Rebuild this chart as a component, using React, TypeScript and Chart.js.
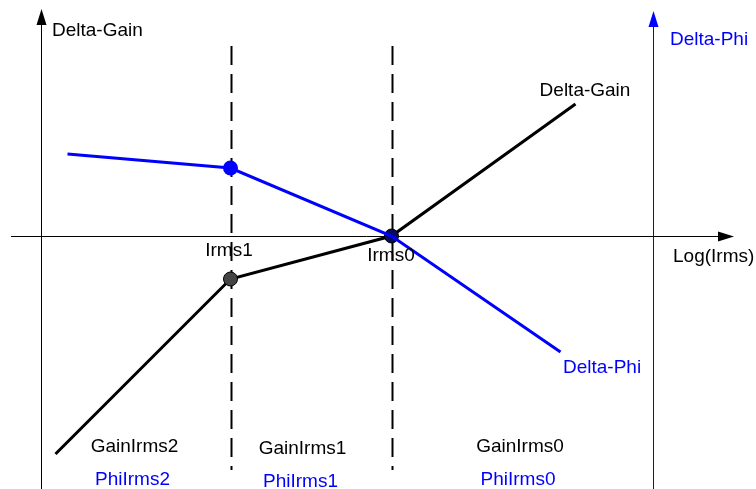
import React, { useEffect, useRef } from "react";
import { Chart, registerables } from "chart.js";

Chart.register(...registerables);

// Log(Irms) positions of the calibration points
const irmsNames = ["Irms1", "Irms0"];
const irmsX = [19, 35.1];

// Delta-Phi curve (blue)
const phiX = [2.7, 19, 35.1, 52];
const phiY = [8.2, 6.8, 0, -11.6];

// Delta-Gain curve (black)
const gainX = [1.5, 19, 35.1, 53.5];
const gainY = [-21.8, -4.3, 0, 13.2];

// Region labels
const gainRegionLabels = ["GainIrms2", "GainIrms1", "GainIrms0"];
const phiRegionLabels = ["PhiIrms2", "PhiIrms1", "PhiIrms0"];

const BLUE = "#0000ff";
const FONT = '19px "Liberation Sans", Arial, sans-serif';

const diagramPlugin = {
  id: "diagram",
  beforeDatasetsDraw(chart: any) {
    const { ctx } = chart;
    const xs = chart.scales.x;
    const ys = chart.scales.y;
    const x0 = xs.getPixelForValue(0);
    const y0 = ys.getPixelForValue(0);
    const H = chart.height;
    const W = chart.width;
    ctx.save();
    // dashed verticals
    ctx.strokeStyle = "#000";
    ctx.lineWidth = 2;
    ctx.setLineDash([19, 9]);
    irmsX.forEach((v) => {
      const px = Math.round(xs.getPixelForValue(v)) + 0.5;
      ctx.beginPath();
      ctx.moveTo(px, 46);
      ctx.lineTo(px, 470);
      ctx.stroke();
    });
    ctx.setLineDash([]);
    // left axis
    ctx.lineWidth = 1;
    ctx.strokeStyle = "#000";
    ctx.fillStyle = "#000";
    const lx = Math.round(x0) + 0.5;
    ctx.beginPath();
    ctx.moveTo(lx, 20);
    ctx.lineTo(lx, H);
    ctx.stroke();
    ctx.beginPath();
    ctx.moveTo(lx, 9);
    ctx.lineTo(lx - 5, 25);
    ctx.lineTo(lx + 5, 25);
    ctx.closePath();
    ctx.fill();
    // horizontal axis
    const hy = Math.round(y0) + 0.5;
    ctx.beginPath();
    ctx.moveTo(11, hy);
    ctx.lineTo(722, hy);
    ctx.stroke();
    ctx.beginPath();
    ctx.moveTo(734, hy);
    ctx.lineTo(718, hy - 5);
    ctx.lineTo(718, hy + 5);
    ctx.closePath();
    ctx.fill();
    // right blue axis
    ctx.strokeStyle = BLUE;
    ctx.fillStyle = BLUE;
    const rx = Math.round(xs.getPixelForValue(61.2)) + 0.5;
    ctx.beginPath();
    ctx.moveTo(rx, 22);
    ctx.lineTo(rx, H);
    ctx.stroke();
    ctx.beginPath();
    ctx.moveTo(rx, 11);
    ctx.lineTo(rx - 5, 27);
    ctx.lineTo(rx + 5, 27);
    ctx.closePath();
    ctx.fill();
    ctx.restore();
  },
  afterDatasetsDraw(chart: any) {
    const { ctx } = chart;
    const xs = chart.scales.x;
    const ys = chart.scales.y;
    const put = (t: string, x: number, y: number, color: string, align: CanvasTextAlign) => {
      ctx.fillStyle = color;
      ctx.textAlign = align;
      ctx.fillText(t, xs.getPixelForValue(x), ys.getPixelForValue(y));
    };
    ctx.save();
    ctx.font = FONT;
    ctx.textBaseline = "middle";
    put("Delta-Gain", 1.15, 20.5, "#000", "left");
    put("Delta-Phi", 62.95, 19.6, BLUE, "left");
    put("Delta-Gain", 54.45, 14.5, "#000", "center");
    put(irmsNames[0], irmsX[0] - 0.15, -1.5, "#000", "center");
    put(irmsNames[1], irmsX[1] - 0.05, -1.95, "#000", "center");
    put("Log(Irms)", 63.25, -2.1, "#000", "left");
    put("Delta-Phi", 52.25, -13.2, BLUE, "left");
    const gx = [9.4, 26.2, 47.95];
    const gy = [-21.1, -21.3, -21.1];
    const px = [9.2, 26.0, 47.75];
    const py = [-24.4, -24.6, -24.4];
    gainRegionLabels.forEach((t, i) => put(t, gx[i], gy[i], "#000", "center"));
    phiRegionLabels.forEach((t, i) => put(t, px[i], py[i], BLUE, "center"));
    ctx.restore();
  },
};

export default function App() {
  const ref = useRef<HTMLCanvasElement>(null);
  useEffect(() => {
    document.body.style.margin = "0";
    const canvas = ref.current!;
    const chart = new Chart(canvas, {
      type: "scatter",
      data: {
        datasets: [
          {
            label: "Delta-Phi",
            data: phiX.map((x, i) => ({ x, y: phiY[i] })),
            showLine: true,
            borderColor: BLUE,
            borderWidth: 3,
            backgroundColor: BLUE,
            pointBorderColor: BLUE,
            pointRadius: [0, 7.5, 0, 0],
            pointBorderWidth: 0,
            tension: 0,
          },
          {
            label: "Delta-Gain",
            data: gainX.map((x, i) => ({ x, y: gainY[i] })),
            showLine: true,
            borderColor: "#000",
            borderWidth: 3,
            backgroundColor: ["#000", "#444", "#0a0a5a", "#000"],
            pointBorderColor: "#000",
            pointRadius: [0, 7, 7, 0],
            pointBorderWidth: 1,
            tension: 0,
          },
        ],
      },
      options: {
        animation: false,
        responsive: false,
        maintainAspectRatio: false,
        layout: { padding: 0 },
        plugins: { legend: { display: false }, tooltip: { enabled: false } },
        scales: {
          x: { type: "linear", min: -4.05, max: 71.55, display: false },
          y: { type: "linear", min: -25.3, max: 23.6, display: false },
        },
      },
      plugins: [diagramPlugin],
    });
    return () => chart.destroy();
  }, []);
  return (
    <div style={{ width: 756, height: 489, background: "#fff" }}>
      <canvas ref={ref} width={756} height={489} style={{ display: "block" }} />
    </div>
  );
}
